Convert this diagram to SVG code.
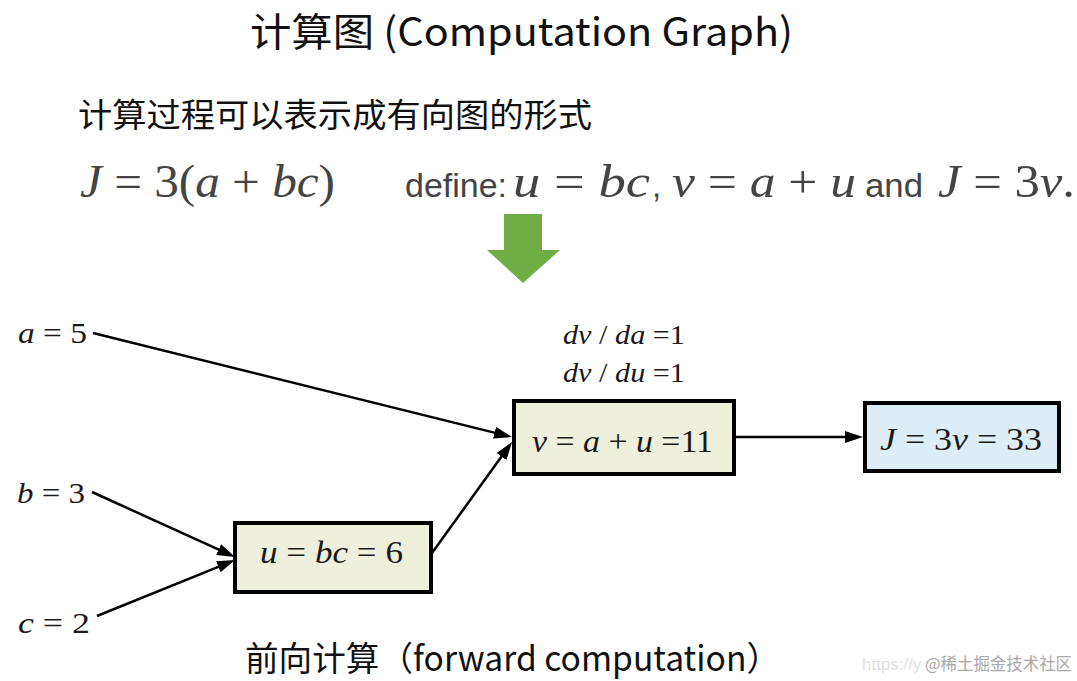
<svg xmlns="http://www.w3.org/2000/svg" width="1077" height="681" viewBox="0 0 1077 681">
<style>
.cn{font-family:"Noto Sans CJK SC","Noto Sans",sans-serif;fill:#111}
.sans{font-family:"Liberation Sans",Arial,sans-serif;fill:#444}
.kx{font-family:"Liberation Serif","Times New Roman",serif;fill:#444}
.tm{font-family:"Liberation Serif","Times New Roman",serif;fill:#1a1a1a}
.i{font-style:italic}
.box{stroke:#000;stroke-width:4}
.conn line{stroke:#000;stroke-width:2.5}
</style>
<defs>
<marker id="ah" viewBox="0 0 18 12" refX="8" refY="6" markerWidth="18" markerHeight="12" markerUnits="userSpaceOnUse" orient="auto">
<path d="M0,0 L18,6 L0,12 Z" fill="#000"/>
</marker>
</defs>
<rect width="1077" height="681" fill="#fff"/>

<g id="title">
<text class="cn" x="250" y="46" font-size="39" textLength="543" lengthAdjust="spacingAndGlyphs">计算图 (Computation Graph)</text>
</g>
<g id="subtitle">
<text class="cn" x="78" y="127" font-size="33" textLength="514" lengthAdjust="spacingAndGlyphs">计算过程可以表示成有向图的形式</text>
</g>

<g id="formula">
<text class="kx" x="80" y="197" font-size="46" textLength="255" lengthAdjust="spacingAndGlyphs"><tspan class="i">J</tspan> = 3(<tspan class="i">a</tspan> + <tspan class="i">bc</tspan>)</text>
<text class="sans" x="405" y="197" font-size="33" textLength="102" lengthAdjust="spacingAndGlyphs">define:</text>
<text class="kx" x="513" y="197" font-size="46" textLength="137" lengthAdjust="spacingAndGlyphs"><tspan class="i">u</tspan> = <tspan class="i">bc</tspan></text>
<text class="sans" x="652" y="197" font-size="33">,</text>
<text class="kx" x="672" y="197" font-size="46" textLength="184" lengthAdjust="spacingAndGlyphs"><tspan class="i">v</tspan> = <tspan class="i">a</tspan> + <tspan class="i">u</tspan></text>
<text class="sans" x="865" y="197" font-size="33" textLength="58" lengthAdjust="spacingAndGlyphs">and</text>
<text class="kx" x="938" y="197" font-size="46" textLength="137" lengthAdjust="spacingAndGlyphs"><tspan class="i">J</tspan> = 3<tspan class="i">v</tspan>.</text>
</g>

<g id="green-arrow">
<polygon points="504,214 542,214 542,250 560,250 523,283 487,250 504,250" fill="#70ad47"/>
</g>

<g class="conn" id="connectors">
<line x1="93" y1="333" x2="502.3" y2="434.6" marker-end="url(#ah)"/>
<line x1="92" y1="492" x2="225.9" y2="552.9" marker-end="url(#ah)"/>
<line x1="97" y1="616" x2="225.7" y2="563.8" marker-end="url(#ah)"/>
<line x1="432" y1="553" x2="506.2" y2="450.1" marker-end="url(#ah)"/>
<line x1="735" y1="437" x2="853" y2="437" marker-end="url(#ah)"/>
</g>

<g id="node-a">
<text class="tm" x="18" y="343" font-size="29" textLength="69" lengthAdjust="spacingAndGlyphs"><tspan class="i">a</tspan> = 5</text>
</g>
<g id="node-b">
<text class="tm" x="17" y="503" font-size="29" textLength="68" lengthAdjust="spacingAndGlyphs"><tspan class="i">b</tspan> = 3</text>
</g>
<g id="node-c">
<text class="tm" x="18" y="633" font-size="29" textLength="72" lengthAdjust="spacingAndGlyphs"><tspan class="i">c</tspan> = 2</text>
</g>

<g id="node-u">
<rect class="box" x="235" y="523" width="196" height="69" fill="#eef0dc"/>
<text class="tm" x="260" y="563" font-size="31" textLength="143" lengthAdjust="spacingAndGlyphs"><tspan class="i">u</tspan> = <tspan class="i">bc</tspan> = 6</text>
</g>

<g id="node-v">
<text class="tm" x="563" y="344" font-size="27" textLength="122" lengthAdjust="spacingAndGlyphs"><tspan class="i">dv</tspan> / <tspan class="i">da</tspan> =1</text>
<text class="tm" x="563" y="382" font-size="27" textLength="122" lengthAdjust="spacingAndGlyphs"><tspan class="i">dv</tspan> / <tspan class="i">du</tspan> =1</text>
<rect class="box" x="514" y="401" width="220" height="73" fill="#eef0dc"/>
<text class="tm" x="532" y="452" font-size="32" textLength="181" lengthAdjust="spacingAndGlyphs"><tspan class="i">v</tspan> = <tspan class="i">a</tspan> + <tspan class="i">u</tspan> =11</text>
</g>

<g id="node-J">
<rect class="box" x="865" y="403" width="194" height="68" fill="#ddedf5"/>
<text class="tm" x="880" y="450" font-size="31" textLength="162" lengthAdjust="spacingAndGlyphs"><tspan class="i">J</tspan> = 3<tspan class="i">v</tspan> = 33</text>
</g>

<g id="caption">
<text class="cn" x="245" y="671" font-size="34" textLength="535" lengthAdjust="spacingAndGlyphs">前向计算（forward computation）</text>
</g>

<g id="watermark">
<text x="862" y="670" font-size="17" font-family="'Liberation Sans','Noto Sans CJK SC',sans-serif" fill="#e2e2e2">https://y</text>
<text x="925" y="670" font-size="17" font-family="'Noto Sans CJK SC',sans-serif" fill="#a8a8a8" textLength="147" lengthAdjust="spacingAndGlyphs">@稀土掘金技术社区</text>
</g>
</svg>
